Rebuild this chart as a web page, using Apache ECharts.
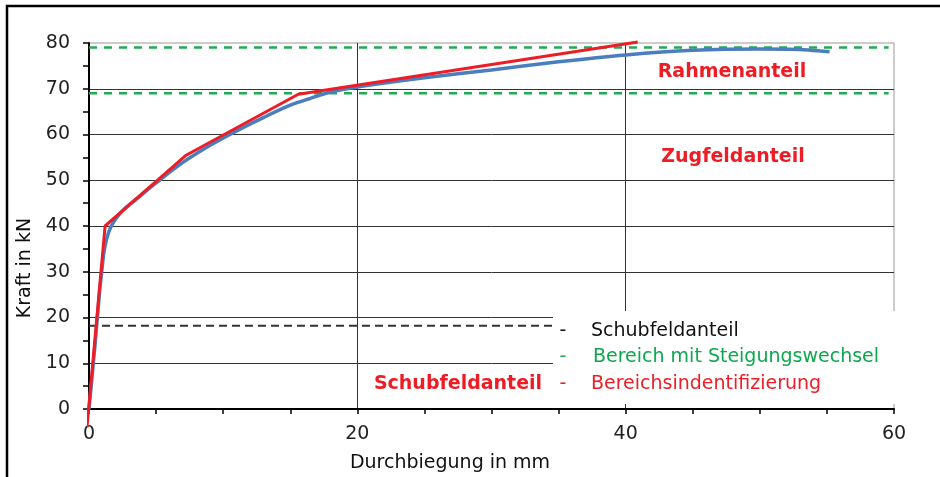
<!DOCTYPE html>
<html>
<head>
<meta charset="utf-8">
<script src="https://cdn.jsdelivr.net/npm/echarts@6/dist/echarts.min.js"></script>
<style>
  html, body { margin: 0; padding: 0; background: #fff; }
  #chart { width: 940px; height: 477px; }
</style>
</head>
<body>
<div id="chart"></div>
<script>
// measured curve (Durchbiegung in mm / Kraft in kN)
const measuredX = [0, 0.45, 0.8, 0.95, 1.1, 1.3, 1.6, 2.0, 2.6, 3.5, 5, 7, 9, 11, 13, 15, 16.5, 18, 20, 25, 30, 35, 40, 45, 50, 53, 55.2];
const measuredY = [0, 14, 26, 30, 34, 37, 39.6, 41.6, 43.6, 45.8, 49.4, 53.9, 57.6, 60.8, 63.7, 66.4, 67.9, 69.3, 70.4, 72.4, 74.1, 75.9, 77.4, 78.4, 78.7, 78.6, 78.1];

// Bereichsindentifizierung (polyline)
const idX = [-0.15, 1.2, 7.2, 15.6, 40.9];
const idY = [-4, 40, 55.4, 68.8, 80.2];

// horizontal reference lines
const shearLevel = 18.2;
const shearEnd = 34.6;
const changeLevels = [79, 69];
const changeEnd = 59.6;

const xTicks = [0, 20, 40, 60];
const yTicks = [0, 10, 20, 30, 40, 50, 60, 70, 80];

const FONT = "DejaVu Sans";
const BLUE = "#4a7ebf";
const RED = "#ee1d25";
const GREEN = "#22ab52";

const pairs = (xs, ys) => xs.map((x, i) => [x, ys[i]]);

const chart = echarts.init(document.getElementById("chart"));

const option = {
  backgroundColor: "#fff",
  animation: false,
  grid: {
    left: 89, right: 46, top: 43, bottom: 68,
    show: true, borderColor: "#999", borderWidth: 1, backgroundColor: "transparent"
  },
  xAxis: {
    type: "value",
    min: xTicks[0], max: xTicks[xTicks.length - 1], interval: 20,
    axisLine: { show: true, onZero: false, lineStyle: { color: "#000", width: 2 } },
    axisTick: { show: true, length: 5, lineStyle: { color: "#000", width: 1.5 } },
    minorTick: { show: true, splitNumber: 4, length: 5, lineStyle: { color: "#000", width: 1.5 } },
    splitLine: { show: true, showMaxLine: false, lineStyle: { color: "#333", width: 1 } },
    axisLabel: { margin: 16, color: "#222", fontFamily: FONT, fontSize: 19 }
  },
  yAxis: {
    type: "value",
    min: yTicks[0], max: yTicks[yTicks.length - 1], interval: 10,
    axisLine: { show: true, lineStyle: { color: "#000", width: 2 } },
    axisTick: { show: true, length: 6, lineStyle: { color: "#000", width: 1.5 } },
    minorTick: { show: true, splitNumber: 2, length: 6, lineStyle: { color: "#000", width: 1.5 } },
    splitLine: { show: true, showMaxLine: false, lineStyle: { color: "#333", width: 1 } },
    axisLabel: { margin: 19, color: "#222", fontFamily: FONT, fontSize: 19 }
  },
  series: [
    {
      name: "Messung",
      type: "line",
      data: pairs(measuredX, measuredY),
      smooth: 0.3,
      showSymbol: false,
      lineStyle: { color: BLUE, width: 3.5 },
      z: 3
    },
    {
      name: "Bereichsindentifizierung",
      type: "line",
      data: pairs(idX, idY),
      clip: false,
      showSymbol: false,
      lineStyle: { color: RED, width: 3 },
      z: 4
    },
    {
      name: "Schubfeldanteil",
      type: "line",
      data: [[0, shearLevel], [shearEnd, shearLevel]],
      showSymbol: false,
      lineStyle: { color: "#333", width: 2, type: [8, 5] },
      z: 2
    },
    ...changeLevels.map((lvl) => ({
      name: "Bereich mit Steigungswechsel",
      type: "line",
      data: [[0, lvl], [changeEnd, lvl]],
      showSymbol: false,
      lineStyle: { color: GREEN, width: 2.5, type: [8, 7] },
      z: 2
    }))
  ],
  graphic: [
    // outer frame (top + left only)
    {
      type: "polyline", z: 20,
      shape: { points: [[7, 477], [7, 6], [940, 6]] },
      style: { stroke: "#000", lineWidth: 2.5, fill: null }
    },
    // white box behind the legend text
    {
      type: "rect", z: 20,
      shape: { x: 553, y: 311, width: 343, height: 93 },
      style: { fill: "#fff" }
    },
    { type: "text", z: 21, x: 563, y: 331, style: { text: "-", fill: "#111", font: `19px "${FONT}"`, align: "center", verticalAlign: "middle" } },
    { type: "text", z: 21, x: 591, y: 331, style: { text: "Schubfeldanteil", fill: "#111", font: `19px "${FONT}"`, verticalAlign: "middle" } },
    { type: "text", z: 21, x: 563, y: 357, style: { text: "-", fill: GREEN, font: `19px "${FONT}"`, align: "center", verticalAlign: "middle" } },
    { type: "text", z: 21, x: 593, y: 357, style: { text: "Bereich mit Steigungswechsel", fill: "#0da84e", font: `19px "${FONT}"`, verticalAlign: "middle" } },
    { type: "text", z: 21, x: 563, y: 384, style: { text: "-", fill: RED, font: `19px "${FONT}"`, align: "center", verticalAlign: "middle" } },
    { type: "text", z: 21, x: 591, y: 384, style: { text: "Bereichsindentifizierung", fill: RED, font: `19px "${FONT}"`, verticalAlign: "middle" } },
    // region labels
    { type: "text", z: 21, x: 732, y: 72, style: { text: "Rahmenanteil", fill: RED, font: `bold 19px "${FONT}"`, align: "center", verticalAlign: "middle" } },
    { type: "text", z: 21, x: 733, y: 157, style: { text: "Zugfeldanteil", fill: RED, font: `bold 19px "${FONT}"`, align: "center", verticalAlign: "middle" } },
    { type: "text", z: 21, x: 458, y: 384, style: { text: "Schubfeldanteil", fill: RED, font: `bold 19px "${FONT}"`, align: "center", verticalAlign: "middle" } },
    // axis titles
    { type: "text", z: 21, x: 25, y: 268, rotation: Math.PI / 2, style: { text: "Kraft in kN", fill: "#111", font: `19px "${FONT}"`, align: "center", verticalAlign: "middle" } },
    { type: "text", z: 21, x: 450, y: 463, style: { text: "Durchbiegung in mm", fill: "#111", font: `19px "${FONT}"`, align: "center", verticalAlign: "middle" } }
  ]
};

chart.setOption(option);
</script>
</body>
</html>
